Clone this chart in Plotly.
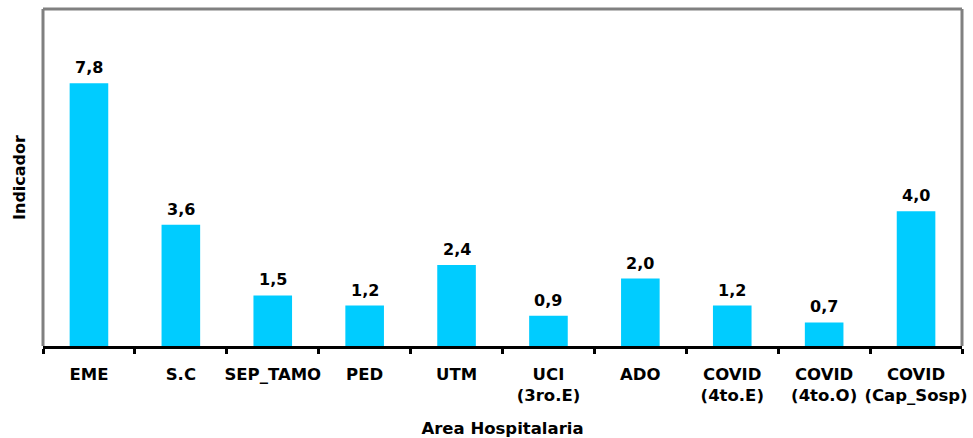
import plotly.graph_objects as go

categories = ["EME", "S.C", "SEP_TAMO", "PED", "UTM", "UCI<br>(3ro.E)", "ADO",
              "COVID<br>(4to.E)", "COVID<br>(4to.O)", "COVID<br>(Cap_Sosp)"]
values = [7.8, 3.6, 1.5, 1.2, 2.4, 0.9, 2.0, 1.2, 0.7, 4.0]

FONT = "DejaVu Sans"
BAR_COLOR = "#00CCFF"


def fmt(v):
    return f"{v:.1f}".replace(".", ",")


fig = go.Figure(
    go.Bar(
        x=categories,
        y=values,
        width=0.42,
        marker=dict(color=BAR_COLOR, line=dict(width=0)),
        hoverinfo="x+y",
    )
)

# value labels above each bar
annotations = [
    dict(x=c, y=v, xref="x", yref="y", text=f"<b>{fmt(v)}</b>",
         showarrow=False, yanchor="bottom", yshift=4,
         font=dict(family=FONT, size=16, color="black"))
    for c, v in zip(categories, values)
]

fig.update_layout(
    width=973,
    height=438,
    margin=dict(l=43, r=11, t=9, b=92),
    paper_bgcolor="white",
    plot_bgcolor="white",
    separators=",.",
    showlegend=False,
    font=dict(family=FONT, color="black"),
    annotations=annotations,
    xaxis=dict(
        automargin=False,
        showline=True,
        linecolor="black",
        linewidth=3,
        ticks="outside",
        tickson="boundaries",
        ticklen=5,
        tickwidth=3,
        tickcolor="black",
        tickangle=0,
        ticklabelstandoff=11,
        tickfont=dict(family=FONT, size=16.5, color="black", weight="bold"),
        title=dict(text="Area Hospitalaria", standoff=20,
                   font=dict(family=FONT, size=16.5, color="black", weight="bold")),
        showgrid=False,
        zeroline=False,
    ),
    yaxis=dict(
        automargin=False,
        range=[0, 10],
        showticklabels=False,
        showgrid=False,
        zeroline=False,
        ticks="",
        title=dict(text="Indicador", standoff=12,
                   font=dict(family=FONT, size=16, color="black", weight="bold")),
    ),
    shapes=[
        # gray frame around the plot area (top, left, right)
        dict(type="line", xref="paper", yref="paper", x0=0, x1=0, y0=0, y1=1,
             line=dict(color="#808080", width=3)),
        dict(type="line", xref="paper", yref="paper", x0=0, x1=1, y0=1, y1=1,
             line=dict(color="#808080", width=3)),
        dict(type="line", xref="paper", yref="paper", x0=1, x1=1, y0=0, y1=1,
             line=dict(color="#808080", width=3)),
    ],
)

fig.write_html("out.html")
